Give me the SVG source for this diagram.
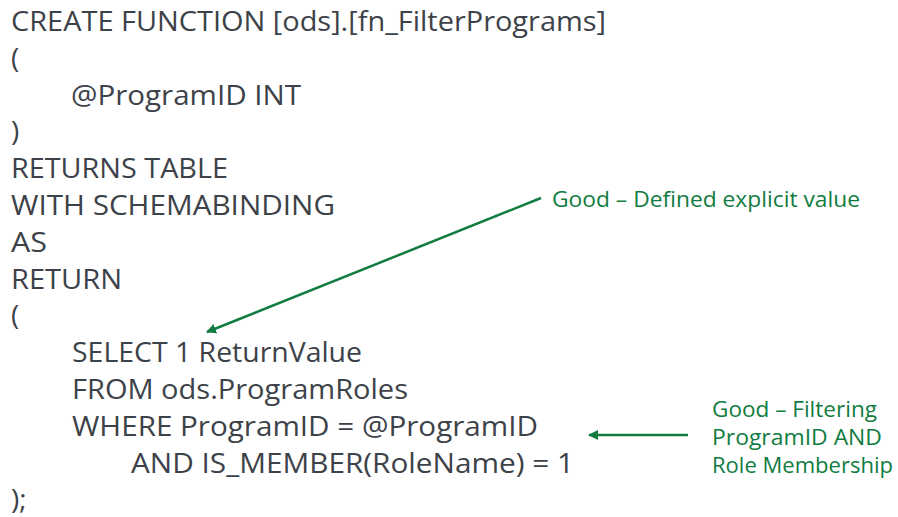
<svg xmlns="http://www.w3.org/2000/svg" width="898" height="517" viewBox="0 0 898 517">
<style>
.code{font-family:"Open Sans","Noto Sans","Liberation Sans",sans-serif;font-size:28px;fill:#3d4249}
.note{font-family:"Open Sans","Noto Sans","Liberation Sans",sans-serif;font-size:22px;fill:#107c41}
.note2{font-family:"Open Sans","Noto Sans","Liberation Sans",sans-serif;font-size:21px;fill:#107c41}
.conn{stroke:#107c41;stroke-width:2.5;fill:none}
</style>
<defs>
<marker id="ah" viewBox="0 0 10 10" refX="9" refY="5" markerWidth="4" markerHeight="4" orient="auto" markerUnits="strokeWidth">
<path d="M0,0 L10,5 L0,10 z" fill="#107c41"/>
</marker>
</defs>
<rect width="898" height="517" fill="#ffffff"/>
<g id="code">
<text class="code" x="11" y="31" textLength="595" lengthAdjust="spacingAndGlyphs">CREATE FUNCTION [ods].[fn_FilterPrograms]</text>
<text class="code" x="11" y="68">(</text>
<text class="code" x="71" y="105" textLength="230" lengthAdjust="spacingAndGlyphs">@ProgramID INT</text>
<text class="code" x="11" y="141">)</text>
<text class="code" x="11" y="178" textLength="217" lengthAdjust="spacingAndGlyphs">RETURNS TABLE</text>
<text class="code" x="11" y="215" textLength="324" lengthAdjust="spacingAndGlyphs">WITH SCHEMABINDING</text>
<text class="code" x="11" y="252" textLength="36" lengthAdjust="spacingAndGlyphs">AS</text>
<text class="code" x="11" y="289" textLength="111" lengthAdjust="spacingAndGlyphs">RETURN</text>
<text class="code" x="11" y="325">(</text>
<text class="code" x="72" y="362" textLength="290" lengthAdjust="spacingAndGlyphs">SELECT 1 ReturnValue</text>
<text class="code" x="72" y="399" textLength="336" lengthAdjust="spacingAndGlyphs">FROM ods.ProgramRoles</text>
<text class="code" x="72" y="436" textLength="466" lengthAdjust="spacingAndGlyphs">WHERE ProgramID = @ProgramID</text>
<text class="code" x="131" y="473" textLength="443" lengthAdjust="spacingAndGlyphs">AND IS_MEMBER(RoleName) = 1</text>
<text class="code" x="11" y="509">);</text>
</g>
<g id="note1">
<text class="note" x="552" y="207" textLength="308" lengthAdjust="spacingAndGlyphs">Good – Defined explicit value</text>
</g>
<g id="note2">
<text class="note2" x="712" y="417" textLength="165" lengthAdjust="spacingAndGlyphs">Good – Filtering</text>
<text class="note2" x="712" y="445" textLength="170" lengthAdjust="spacingAndGlyphs">ProgramID AND</text>
<text class="note2" x="712" y="473" textLength="181" lengthAdjust="spacingAndGlyphs">Role Membership</text>
</g>
<g id="connectors">
<line class="conn" x1="541" y1="198" x2="207" y2="332" marker-end="url(#ah)"/>
<line class="conn" x1="688" y1="435" x2="589" y2="435" marker-end="url(#ah)"/>
</g>
</svg>
